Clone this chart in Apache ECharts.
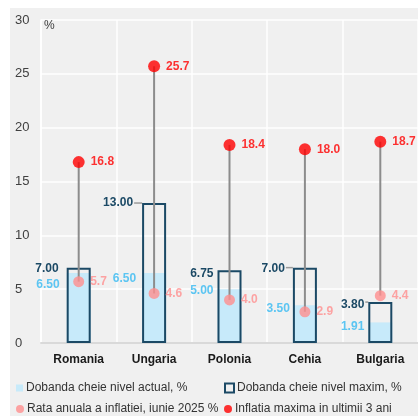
<!DOCTYPE html>
<html>
<head>
<meta charset="utf-8">
<script src="https://cdn.jsdelivr.net/npm/echarts@6/dist/echarts.min.js"></script>
<style>
  html, body { margin: 0; padding: 0; background: #ffffff; }
  #chart { width: 418px; height: 416px; }
</style>
</head>
<body>
<div id="chart"></div>
<script>
// Policy rates and inflation, CEE countries
const categories = ['Romania', 'Ungaria', 'Polonia', 'Cehia', 'Bulgaria'];
const rateActual = [6.50, 6.50, 5.00, 3.50, 1.91];
const rateMax = [7.00, 13.00, 6.75, 7.00, 3.80];
const inflationJune = [5.7, 4.6, 4.0, 2.9, 4.4];
const inflationMax = [16.8, 25.7, 18.4, 18.0, 18.7];
const yTicks = [0, 5, 10, 15, 20, 25, 30];

const names = {
  actual: 'Dobanda cheie nivel actual, %',
  max: 'Dobanda cheie nivel maxim, %',
  infl: 'Rata anuala a inflatiei, iunie 2025 %',
  inflMax: 'Inflatia maxima in ultimii 3 ani'
};

// small nudges so neighbouring labels don't collide
const actualLabelShift = [12, 6, 2, 3, 4];
const actualLabelGap = [7, 6, 4, 3, 4];
const maxLabelGap = [8, 9, 4, 8, 4];
const maxLabelShift = [1, 0, 3, 1, 3];
// which max-rate labels get a short guide line to the bar corner
const maxLeader = [0, 8, 0, 7, 3];

const FONT = '"Liberation Sans", Arial, sans-serif';
const chart = echarts.init(document.getElementById('chart'), null, { renderer: 'canvas' });

const BAR_W = 24;

function legendAt(left, top, item, size) {
  return {
    orient: 'horizontal', left: left, top: top,
    itemWidth: size, itemHeight: size, itemGap: 4,
    padding: 0,
    textStyle: { fontSize: 12, color: '#333333', fontFamily: FONT, padding: [0, 0, 0, -2] },
    data: [item]
  };
}

const option = {
  backgroundColor: '#ffffff',
  animation: false,
  textStyle: { fontFamily: FONT },
  graphic: [
    { type: 'rect', z: -10, silent: true, shape: { x: 10, y: 8, width: 410, height: 410 }, style: { fill: '#f0f0f0' } },
    { type: 'text', left: 44, top: 20, z: 10, style: { text: '%', font: '12px ' + FONT, fill: '#404040' } }
  ],
  grid: { left: 41, right: -2, top: 20, bottom: 73, containLabel: false },
  legend: [
    legendAt(16, 382, { name: names.actual, icon: 'rect' }, 7),
    legendAt(16, 403, { name: names.infl, icon: 'circle' }, 8),
    legendAt(224, 382, { name: names.max, icon: 'rect', itemStyle: { color: '#f0f0f0', borderColor: '#1b4965', borderWidth: 2 } }, 9),
    legendAt(224, 403, { name: names.inflMax, icon: 'circle' }, 8)
  ],
  xAxis: {
    type: 'category',
    data: categories,
    boundaryGap: true,
    axisLine: { show: true, lineStyle: { color: '#d9d9d9', width: 2 } },
    axisTick: { show: false },
    splitLine: { show: true, lineStyle: { color: '#ffffff', width: 1.5 } },
    axisLabel: { color: '#1a1a1a', fontWeight: 'bold', fontSize: 12, margin: 11, fontFamily: FONT }
  },
  yAxis: {
    type: 'value',
    min: yTicks[0], max: yTicks[yTicks.length - 1], interval: 5,
    axisLine: { show: true, lineStyle: { color: '#ffffff', width: 1.5 } },
    axisTick: { show: false },
    splitLine: { show: true, lineStyle: { color: '#ffffff', width: 1.5 } },
    axisLabel: { color: '#404040', fontSize: 13, align: 'left', margin: 26, fontFamily: FONT }
  },
  series: [
    {
      name: names.actual,
      type: 'bar',
      barWidth: BAR_W,
      barGap: '-100%',
      z: 2,
      itemStyle: { color: '#c7eafa' },
      data: rateActual.map((v, i) => ({
        value: v,
        label: { position: [-actualLabelGap[i], actualLabelShift[i]] }
      })),
      label: {
        show: true, align: 'right', verticalAlign: 'middle',
        color: '#5cc5f2', fontWeight: 'bold', fontSize: 12, fontFamily: FONT,
        formatter: p => p.value.toFixed(2)
      }
    },
    {
      name: names.max,
      type: 'bar',
      barWidth: BAR_W,
      barGap: '-100%',
      z: 3,
      itemStyle: { color: 'rgba(0,0,0,0)', borderColor: '#1b4965', borderWidth: 2 },
      data: rateMax.map((v, i) => ({
        value: v,
        label: { position: [-maxLabelGap[i], maxLabelShift[i]] }
      })),
      label: {
        show: true, align: 'right', verticalAlign: 'middle',
        color: '#1b4965', fontWeight: 'bold', fontSize: 12, fontFamily: FONT,
        formatter: p => p.value.toFixed(2)
      }
    },
    {
      // guide lines from the max-rate labels to the bar corners
      name: 'leader',
      type: 'custom',
      z: 3,
      silent: true,
      encode: { x: 0, y: 1 },
      data: categories.map((c, i) => [i, rateMax[i], maxLeader[i]]),
      renderItem: function (params, api) {
        const len = api.value(2);
        if (!len) return null;
        const p = api.coord([api.value(0), api.value(1)]);
        const x2 = p[0] - BAR_W / 2;
        return {
          type: 'line',
          shape: { x1: x2 - len, y1: p[1], x2: x2, y2: p[1] },
          style: { stroke: '#9a9a9a', lineWidth: 1.5 }
        };
      }
    },
    {
      name: 'stem',
      type: 'custom',
      z: 4,
      silent: true,
      encode: { x: 0, y: [1, 2] },
      data: categories.map((c, i) => [i, inflationJune[i], inflationMax[i]]),
      renderItem: function (params, api) {
        const a = api.coord([api.value(0), api.value(1)]);
        const b = api.coord([api.value(0), api.value(2)]);
        return {
          type: 'line',
          shape: { x1: a[0], y1: a[1], x2: b[0], y2: b[1] },
          style: { stroke: '#8c8c8c', lineWidth: 2 }
        };
      }
    },
    {
      name: names.infl,
      type: 'scatter',
      symbol: 'circle',
      symbolSize: 11,
      z: 5,
      itemStyle: { color: '#ff8f8f' },
      data: inflationJune,
      label: {
        show: true, position: 'right', distance: 6,
        color: '#ff8f8f', fontWeight: 'bold', fontSize: 12, fontFamily: FONT,
        formatter: p => p.value.toFixed(1)
      }
    },
    {
      name: names.inflMax,
      type: 'scatter',
      symbol: 'circle',
      symbolSize: 12,
      z: 5,
      itemStyle: { color: '#ff0000' },
      data: inflationMax,
      label: {
        show: true, position: 'right', distance: 6,
        color: '#ff0000', fontWeight: 'bold', fontSize: 12, fontFamily: FONT,
        formatter: p => p.value.toFixed(1)
      }
    }
  ]
};

chart.setOption(option);
</script>
</body>
</html>
